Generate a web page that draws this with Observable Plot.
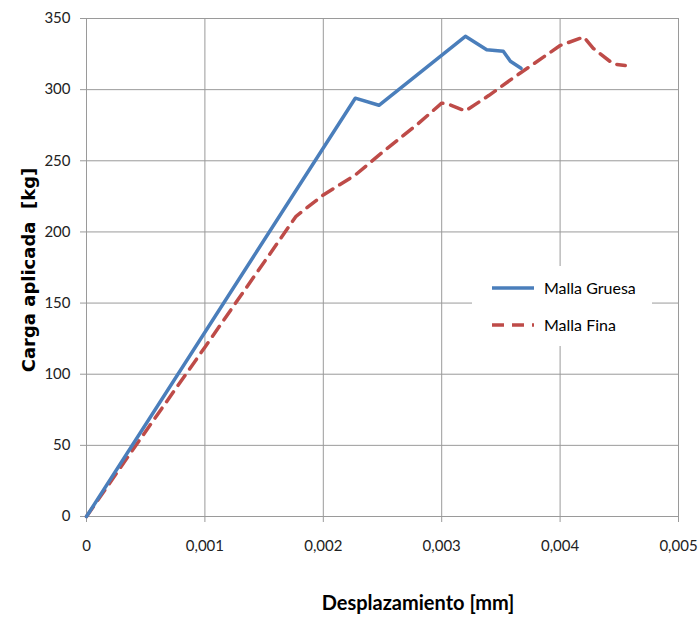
<!DOCTYPE html>
<html>
<head>
<meta charset="utf-8">
<script src="https://cdn.jsdelivr.net/npm/d3@7"></script>
<script src="https://cdn.jsdelivr.net/npm/@observablehq/plot@0.6"></script>
<style>
  body { margin: 0; background: #fff; font-family: Lato, "Open Sans", sans-serif; }
  #wrap { position: relative; width: 700px; height: 617px; }
  .ytitle { position: absolute; left: 28px; top: 270px; transform: translate(-50%, -50%) rotate(-90deg);
            font-family: "DejaVu Sans", sans-serif; font-weight: bold; font-size: 18px; white-space: pre; color: #000; }
  .xtitle { position: absolute; left: 418px; top: 602px; transform: translate(-50%, -50%);
            font-weight: bold; font-size: 20px; white-space: nowrap; color: #000; }
  .legend { position: absolute; left: 472px; top: 266px; width: 180px; height: 80px; background: #fff;
            font-size: 16px; color: #000; }
  .legend .row { position: absolute; left: 18px; display: flex; align-items: center; }
  .legend svg { margin-right: 10px; }
</style>
</head>
<body>
<div id="wrap"></div>
<script>
const seriesNames = ["Malla Gruesa", "Malla Fina"];
const seriesColors = ["#4A7EBB", "#BE4B48"];

const gruesaX = [0, 0.00227, 0.00247, 0.0032, 0.00338, 0.00352, 0.00358, 0.00367];
const gruesaY = [0, 294, 289, 337.5, 328, 327, 320, 315];

const finaX = [0, 0.0004, 0.001, 0.00177, 0.002, 0.00227, 0.0025, 0.0028, 0.003, 0.00305, 0.0032, 0.0034, 0.0036, 0.004, 0.0042, 0.00428, 0.00445, 0.00455];
const finaY = [0, 48, 119, 211, 226, 240, 256, 276, 290.5, 290, 285, 296, 308, 331, 337, 329, 318, 317];

const xTicks = [0, 0.001, 0.002, 0.003, 0.004, 0.005];
const yTicks = [0, 50, 100, 150, 200, 250, 300, 350];

const gruesa = gruesaX.map((x, i) => ({x, y: gruesaY[i]}));
const fina = finaX.map((x, i) => ({x, y: finaY[i]}));

const fmtX = d => d === 0 ? "0" : d.toFixed(3).replace(".", ",");

const chart = Plot.plot({
  width: 700,
  height: 617,
  marginLeft: 86,
  marginRight: 22,
  marginTop: 18,
  marginBottom: 101,
  style: { fontFamily: "Lato, 'Open Sans', sans-serif", fontSize: "15px", color: "#222", background: "#fff" },
  x: { domain: [0, 0.005] },
  y: { domain: [0, 350] },
  marks: [
    Plot.gridX(xTicks, { stroke: "#9a9a9a", strokeOpacity: 1 }),
    Plot.gridY(yTicks, { stroke: "#9a9a9a", strokeOpacity: 1 }),
    Plot.axisX(xTicks, { tickFormat: fmtX, tickSize: 6, tickPadding: 18, label: null, stroke: "#9a9a9a", fontSize: 15 }),
    Plot.axisY(yTicks, { tickSize: 6, tickPadding: 10, label: null, stroke: "#9a9a9a", fontSize: 15 }),
    Plot.ruleX([0], { stroke: "#9a9a9a" }),
    Plot.ruleY([0], { stroke: "#9a9a9a" }),
    Plot.line(fina, { x: "x", y: "y", stroke: seriesColors[1], strokeWidth: 3.5, strokeDasharray: "12,8" }),
    Plot.line(gruesa, { x: "x", y: "y", stroke: seriesColors[0], strokeWidth: 3.5 })
  ]
});

const wrap = document.getElementById("wrap");
wrap.appendChild(chart);

const yt = document.createElement("div");
yt.className = "ytitle"; yt.textContent = "Carga aplicada  [kg]";
wrap.appendChild(yt);
const xt = document.createElement("div");
xt.className = "xtitle"; xt.textContent = "Desplazamiento [mm]";
wrap.appendChild(xt);

const leg = document.createElement("div");
leg.className = "legend";
seriesNames.forEach((name, i) => {
  const row = document.createElement("div");
  row.className = "row";
  row.style.top = (i === 0 ? 12 : 49) + "px";
  const dash = i === 0 ? "" : 'stroke-dasharray="12,8"';
  row.innerHTML = `<svg width="44" height="8"><line x1="2" y1="4" x2="44" y2="4" stroke="${seriesColors[i]}" stroke-width="3.5" ${dash}/></svg><span>${name}</span>`;
  leg.appendChild(row);
});
wrap.appendChild(leg);
</script>
</body>
</html>
